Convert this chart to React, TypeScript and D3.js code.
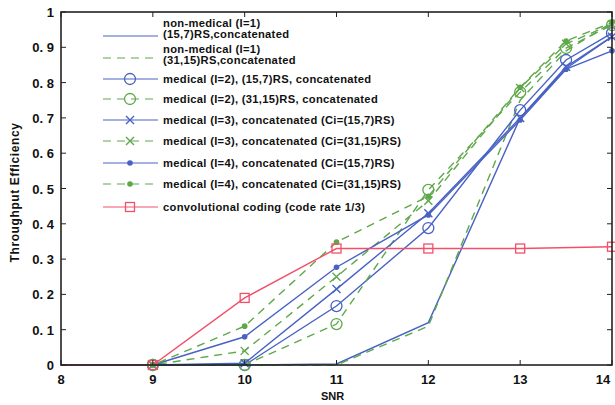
import * as d3 from "d3";

// SNR positions
const snr = [8, 9, 10, 11, 12, 13, 13.5, 14];
const snrConv = [8, 9, 10, 11, 12, 13, 14];

const nonMed157 = [0, 0, 0, 0.003, 0.12, 0.7, 0.84, 0.93];
const nonMed3115 = [0, 0, 0, 0, 0.11, 0.75, 0.89, 0.97];
const med2_157 = [0, 0, 0, 0.167, 0.388, 0.722, 0.864, 0.94];
const med2_3115 = [0, 0, 0, 0.116, 0.496, 0.773, 0.898, 0.963];
const med3_157 = [0, 0, 0.005, 0.215, 0.43, 0.7, 0.845, 0.93];
const med3_3115 = [0, 0, 0.04, 0.25, 0.465, 0.785, 0.91, 0.965];
const med4_157 = [0, 0, 0.08, 0.277, 0.425, 0.694, 0.838, 0.89];
const med4_3115 = [0, 0, 0.11, 0.348, 0.478, 0.787, 0.918, 0.97];
const conv = [0, 0, 0.19, 0.33, 0.33, 0.33, 0.335];

const xTicks = [8, 9, 10, 11, 12, 13, 14];
const yTicks = [0, 0.1, 0.2, 0.3, 0.4, 0.5, 0.6, 0.7, 0.8, 0.9, 1];
const yTickLabels = ["0", "0. 1", "0. 2", "0. 3", "0. 4", "0. 5", "0. 6", "0. 7", "0. 8", "0. 9", "1"];

const BLUE = "#4862c4";
const GREEN = "#5ea84a";
const RED = "#f2506a";

type Marker = "none" | "circle" | "x" | "dot" | "square";

const series = [
  { label: ["non-medical (I=1)", "(15,7)RS,concatenated"], xs: snr, ys: nonMed157, color: BLUE, dashed: false, marker: "none" as Marker },
  { label: ["non-medical (I=1)", "(31,15)RS,concatenated"], xs: snr, ys: nonMed3115, color: GREEN, dashed: true, marker: "none" as Marker },
  { label: ["medical (I=2), (15,7)RS, concatenated"], xs: snr, ys: med2_157, color: BLUE, dashed: false, marker: "circle" as Marker },
  { label: ["medical (I=2), (31,15)RS, concatenated"], xs: snr, ys: med2_3115, color: GREEN, dashed: true, marker: "circle" as Marker },
  { label: ["medical (I=3), concatenated (Ci=(15,7)RS)"], xs: snr, ys: med3_157, color: BLUE, dashed: false, marker: "x" as Marker },
  { label: ["medical (I=3), concatenated (Ci=(31,15)RS)"], xs: snr, ys: med3_3115, color: GREEN, dashed: true, marker: "x" as Marker },
  { label: ["medical (I=4), concatenated (Ci=(15,7)RS)"], xs: snr, ys: med4_157, color: BLUE, dashed: false, marker: "dot" as Marker },
  { label: ["medical (I=4), concatenated (Ci=(31,15)RS)"], xs: snr, ys: med4_3115, color: GREEN, dashed: true, marker: "dot" as Marker },
  { label: ["convolutional coding (code rate 1/3)"], xs: snrConv, ys: conv, color: RED, dashed: false, marker: "square" as Marker },
];

function MarkerShape({ kind, x, y, color }: { kind: Marker; x: number; y: number; color: string }) {
  if (kind === "circle") return <circle cx={x} cy={y} r={5.5} fill="none" stroke={color} strokeWidth={1.3} />;
  if (kind === "dot") return <circle cx={x} cy={y} r={2.8} fill={color} />;
  if (kind === "square")
    return <rect x={x - 4.5} y={y - 4.5} width={9} height={9} fill="none" stroke={color} strokeWidth={1.3} />;
  if (kind === "x")
    return (
      <path d={`M${x - 4},${y - 4}L${x + 4},${y + 4}M${x - 4},${y + 4}L${x + 4},${y - 4}`} stroke={color} strokeWidth={1.4} />
    );
  return null;
}

export default function App() {
  const W = 615;
  const H = 405;
  const left = 61, right = 612, top = 12, bottom = 365;

  const x = d3.scaleLinear().domain([8, 14]).range([left, right]);
  const y = d3.scaleLinear().domain([0, 1]).range([bottom, top]);

  const font = "'Liberation Sans', Arial, sans-serif";

  const legendRows = [36, 58, 79, 99, 120, 141, 163, 184, 207];
  const legendFs = 11.2;

  return (
    <svg width={W} height={H} style={{ position: "absolute", left: 0, top: 0 }} fontFamily={font}>
      <rect width={W} height={H} fill="#fff" />

      {series.map((s, i) => {
        const pts = s.xs.map((v, k) => [x(v), y(s.ys[k])] as [number, number]);
        const line = d3.line();
        return (
          <g key={i}>
            <path
              d={line(pts) || ""}
              fill="none"
              stroke={s.color}
              strokeWidth={1.4}
              strokeDasharray={s.dashed ? "8,6" : undefined}
            />
            {s.marker !== "none" &&
              pts.slice(1).map((p, k) => <MarkerShape key={k} kind={s.marker} x={p[0]} y={p[1]} color={s.color} />)}
          </g>
        );
      })}

      {/* frame */}
      <rect x={left} y={top} width={right - left} height={bottom - top} fill="none" stroke="#222" strokeWidth={1.6} />

      {xTicks.map((t) => (
        <g key={"x" + t}>
          <line x1={x(t)} x2={x(t)} y1={bottom} y2={bottom - 5} stroke="#222" />
          <line x1={x(t)} x2={x(t)} y1={top} y2={top + 5} stroke="#222" />
          <text x={Math.min(x(t), 603)} y={384} textAnchor="middle" fontSize={13} fontWeight="bold" fill="#111">
            {t}
          </text>
        </g>
      ))}

      {yTicks.map((t, i) => (
        <g key={"y" + t}>
          <line x1={left} x2={left + 5} y1={y(t)} y2={y(t)} stroke="#222" />
          <line x1={right} x2={right - 5} y1={y(t)} y2={y(t)} stroke="#222" />
          <text x={54} y={y(t) + 5} textAnchor="end" fontSize={13} fontWeight="bold" fill="#111">
            {yTickLabels[i]}
          </text>
        </g>
      ))}

      <text x={x(11) - 4} y={400} textAnchor="middle" fontSize={11} fontWeight="bold" fill="#111">
        SNR
      </text>
      <text
        transform={`translate(19,${(top + bottom) / 2 + 4}) rotate(-90)`}
        textAnchor="middle"
        fontSize={12}
        fontWeight="bold"
        fill="#111"
        letterSpacing={0.6}
      >
        Throughput Efficiency
      </text>

      {/* legend */}
      {series.map((s, i) => {
        const ly = legendRows[i];
        return (
          <g key={"lg" + i}>
            <line
              x1={103}
              x2={158}
              y1={ly}
              y2={ly}
              stroke={s.color}
              strokeWidth={1.2}
              strokeDasharray={s.dashed ? "8,6" : undefined}
            />
            <MarkerShape kind={s.marker} x={130} y={ly} color={s.color} />
            {s.label.length === 2 ? (
              <>
                <text x={163} y={i === 0 ? ly - 9 : ly - 5} fontSize={legendFs} fontWeight="bold" fill="#111" letterSpacing={0.3}>
                  {s.label[0]}
                </text>
                <text x={163} y={i === 0 ? ly + 2 : ly + 6} fontSize={legendFs} fontWeight="bold" fill="#111" letterSpacing={0.3}>
                  {s.label[1]}
                </text>
              </>
            ) : (
              <text x={163} y={ly + 4} fontSize={legendFs} fontWeight="bold" fill="#111" letterSpacing={0.3}>
                {s.label[0]}
              </text>
            )}
          </g>
        );
      })}
    </svg>
  );
}
